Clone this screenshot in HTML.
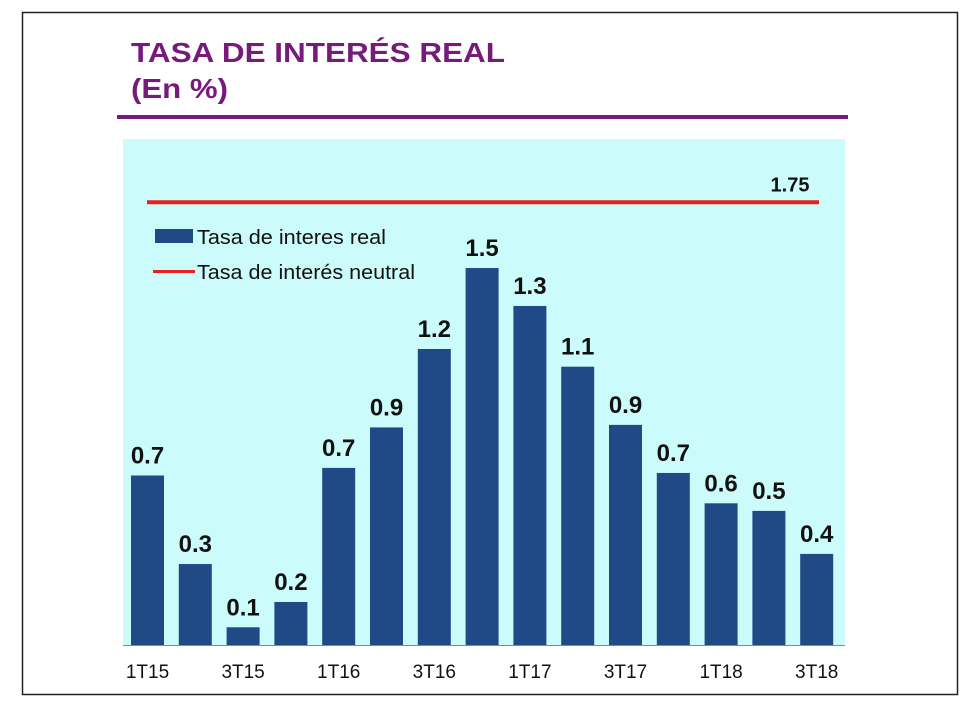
<!DOCTYPE html>
<html><head><meta charset="utf-8"><style>
body{margin:0;background:#fff;width:980px;height:719px;overflow:hidden;font-family:"Liberation Sans",sans-serif}
</style></head><body>
<svg width="980" height="719" xmlns="http://www.w3.org/2000/svg">
<rect x="22.5" y="12.5" width="935" height="682" fill="#fff" stroke="#222" stroke-width="1.5"/>
<text x="131" y="62" font-size="28" font-weight="bold" fill="#761a7b" textLength="374" lengthAdjust="spacingAndGlyphs">TASA DE INTERÉS REAL</text>
<text x="131" y="98" font-size="28" font-weight="bold" fill="#761a7b" textLength="97" lengthAdjust="spacingAndGlyphs">(En %)</text>
<rect x="117" y="115" width="731" height="4" fill="#761a7b"/>
<rect x="123" y="139" width="722" height="507" fill="#ccfbfb"/>
<g id="bars"></g>
<line x1="123" y1="645.5" x2="845" y2="645.5" stroke="#888" stroke-width="1"/>
<g>
<rect x="155" y="229" width="38" height="14" fill="#1f4a85"/>
<text x="197" y="244" font-size="20" fill="#111" textLength="189" lengthAdjust="spacingAndGlyphs">Tasa de interes real</text>
<rect x="153" y="270" width="42" height="3" fill="#e8201f"/>
<text x="197" y="279" font-size="20" fill="#111" textLength="218" lengthAdjust="spacingAndGlyphs">Tasa de interés neutral</text>
</g>
</svg>
<script>
const categories=["1T15","2T15","3T15","4T15","1T16","2T16","3T16","4T16","1T17","2T17","3T17","4T17","1T18","2T18","3T18"];
const values=[0.67,0.32,0.07,0.17,0.70,0.86,1.17,1.49,1.34,1.10,0.87,0.68,0.56,0.53,0.36];
const valueLabels=["0.7","0.3","0.1","0.2","0.7","0.9","1.2","1.5","1.3","1.1","0.9","0.7","0.6","0.5","0.4"];
const tickLabels=["1T15","3T15","1T16","3T16","1T17","3T17","1T18","3T18"];
const neutralRate=1.75;
const neutralLabel="1.75";
const svg=document.querySelector('svg');
const NS="http://www.w3.org/2000/svg";
const baseY=645, scale=253, x0=131, step=47.8, bw=33;
const y=v=>baseY-v*scale;
const xc=i=>x0+i*step+bw/2;
const g=document.getElementById('bars');
values.forEach((v,i)=>{
  const r=document.createElementNS(NS,'rect');
  r.setAttribute('x',xc(i)-bw/2);r.setAttribute('y',y(v));
  r.setAttribute('width',bw);r.setAttribute('height',baseY-y(v));
  r.setAttribute('fill','#1f4a85');
  
  
  g.appendChild(r);
  const t=document.createElementNS(NS,'text');
  t.setAttribute('x',xc(i));t.setAttribute('y',y(v)-12);
  t.setAttribute('text-anchor','middle');t.setAttribute('font-size','24');t.setAttribute('font-weight','bold');t.setAttribute('fill','#111');
  t.textContent=valueLabels[i];
  
  
  g.appendChild(t);
});
categories.forEach((c,i)=>{
  if(tickLabels.indexOf(c)<0) return;
  const t=document.createElementNS(NS,'text');
  t.setAttribute('x',xc(i));t.setAttribute('y',678);
  t.setAttribute('text-anchor','middle');t.setAttribute('font-size','19');t.setAttribute('fill','#111');
  t.textContent=c;
  
  
  svg.appendChild(t);
});
const l=document.createElementNS(NS,'line');
l.setAttribute('x1',147);l.setAttribute('x2',819);l.setAttribute('y1',y(neutralRate));l.setAttribute('y2',y(neutralRate));
l.setAttribute('stroke','#e8201f');l.setAttribute('stroke-width','4');


svg.appendChild(l);
const nt=document.createElementNS(NS,'text');
nt.setAttribute('x',790);nt.setAttribute('y',y(neutralRate)-11);
nt.setAttribute('text-anchor','middle');nt.setAttribute('font-size','20');nt.setAttribute('font-weight','bold');nt.setAttribute('fill','#111');
nt.textContent=neutralLabel;


svg.appendChild(nt);
</script>
</body></html>
